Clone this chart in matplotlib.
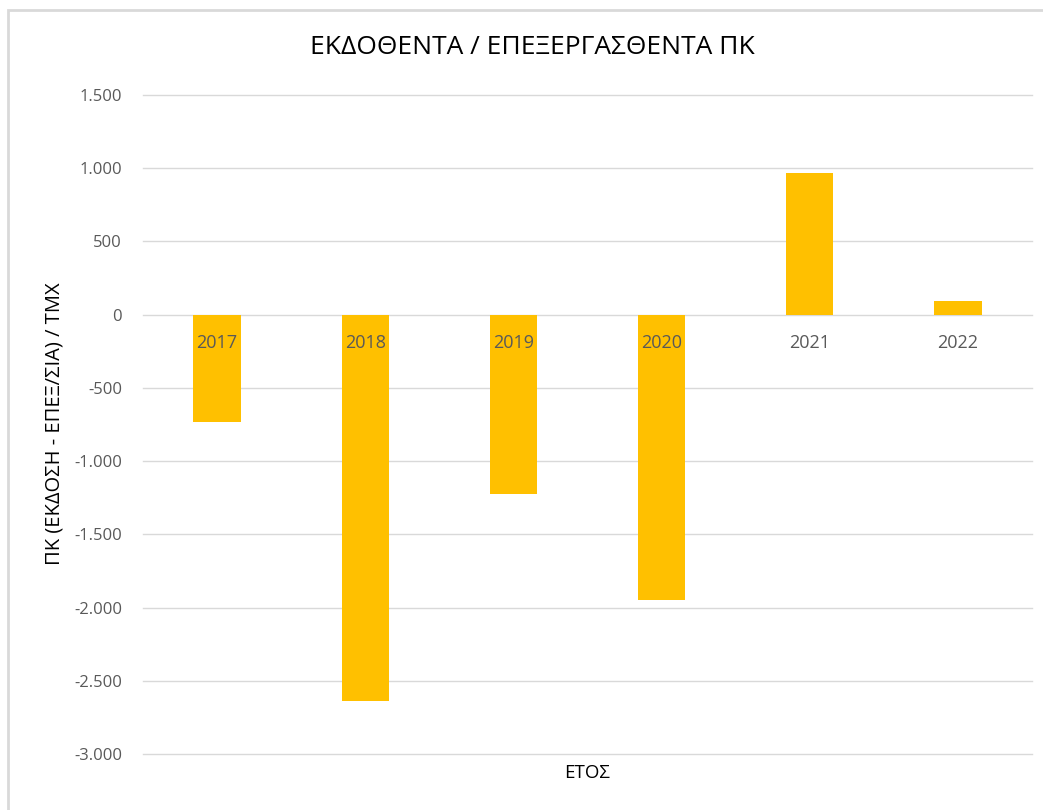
import matplotlib.pyplot as plt
from matplotlib.patches import Rectangle
from matplotlib.ticker import FuncFormatter

# data
years = ['2017', '2018', '2019', '2020', '2021', '2022']
values = [-730, -2635, -1227, -1950, 966, 92]

plt.rcParams['font.family'] = ['Open Sans', 'DejaVu Sans']

fig = plt.figure(figsize=(10.43, 8.10), dpi=100)

# light grey chart frame like the excel chart area
fig.patches.append(Rectangle((8 / 1043, -0.05), 1.1, 1 - 10 / 810 + 0.05,
                             transform=fig.transFigure, fill=False,
                             edgecolor='#d9d9d9', linewidth=2))

ax = fig.add_axes([143 / 1043, 1 - 754 / 810, (1032 - 143) / 1043, (754 - 95) / 810])

x = range(len(years))
ax.bar(x, values, width=0.32, color='#ffc000', zorder=2)

ax.set_ylim(-3000, 1500)
ax.set_xlim(-0.5, len(years) - 0.5)
ax.set_yticks(range(-3000, 1501, 500))
ax.yaxis.set_major_formatter(FuncFormatter(lambda v, p: f'{v:,.0f}'.replace(',', '.')))
ax.grid(axis='y', color='#d9d9d9', linewidth=1)
for gl in ax.yaxis.get_gridlines():
    gl.set_clip_on(False)
ax.set_axisbelow(True)

# category labels sit on the zero line, drawn above the bars
ax.spines['bottom'].set_position(('data', 0))
ax.xaxis.set_zorder(3)
ax.set_xticks(list(x))
ax.set_xticklabels(years)
for s in ['top', 'right', 'left', 'bottom']:
    ax.spines[s].set_visible(False)
ax.tick_params(axis='both', length=0, labelcolor='#595959')
ax.tick_params(axis='x', pad=14, labelsize=13)
ax.tick_params(axis='y', pad=15, labelsize=12)

fig.text(532 / 1043, 1 - 48 / 810, 'ΕΚΔΟΘΕΝΤΑ / ΕΠΕΞΕΡΓΑΣΘΕΝΤΑ ΠΚ',
         ha='center', va='center', fontsize=19, color='#000000')
fig.text((143 + 1032) / 2 / 1043, 1 - 773 / 810, 'ΕΤΟΣ',
         ha='center', va='center', fontsize=13.5, color='#000000')
fig.text(55 / 1043, 1 - 424 / 810, 'ΠΚ (ΕΚΔΟΣΗ - ΕΠΕΞ/ΣΙΑ) / ΤΜΧ',
         ha='center', va='center', rotation=90, fontsize=14.5, color='#000000')

fig.savefig('out.png', dpi=100)
